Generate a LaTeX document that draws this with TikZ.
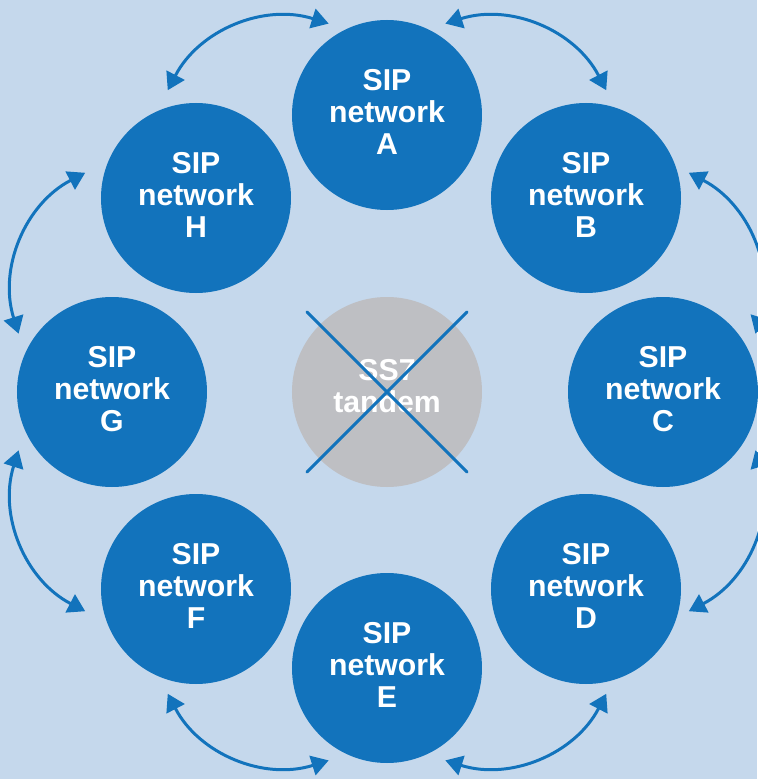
\documentclass[tikz,border=0pt]{standalone}
\usepackage{fontspec}
\setmainfont{Liberation Sans}
\usetikzlibrary{arrows.meta}
\definecolor{sipblue}{RGB}{18,115,188}
\definecolor{bgblue}{RGB}{197,216,236}
\definecolor{tandemgray}{RGB}{190,191,195}

\begin{document}
\begin{tikzpicture}[line width=1.7pt]
	\tikzstyle{every node} = [circle, minimum size=3.8cm, inner sep=0pt, align=center, text=white, font=\bfseries\fontsize{17.2}{18.2}\selectfont]
	\tikzstyle{sip} = [fill=sipblue, text depth=0.13cm]
	\tikzstyle{link} = [<->, >={Triangle[length=0.34cm, width=0.4cm]}, sipblue]
	\fill [bgblue] (-7.74,-7.74) rectangle (7.40,7.84);
	\useasboundingbox (-7.74,-7.74) rectangle (7.40,7.84);
	\node [sip] (A) at (0,5.54) {SIP\\network\\A};
	\node [sip] (B) at (3.98,3.88) {SIP\\network\\B};
	\node [sip] (C) at (5.52,0) {SIP\\network\\C};
	\node [sip] (D) at (3.98,-3.94) {SIP\\network\\D};
	\node [sip] (E) at (0,-5.52) {SIP\\network\\E};
	\node [sip] (F) at (-3.82,-3.94) {SIP\\network\\F};
	\node [sip] (G) at (-5.50,0) {SIP\\network\\G};
	\node [sip] (H) at (-3.82,3.88) {SIP\\network\\H};
	\node [fill=tandemgray, text depth=0.24cm] (ss7) at (0,0) {SS7\\tandem};
	% ends of the links between neighbouring networks
	\coordinate (bc1) at (9:7.46);
	\coordinate (bc2) at (36:7.46);
	\coordinate (ab1) at (54:7.46);
	\coordinate (ab2) at (81:7.46);
	\coordinate (ah1) at (99:7.46);
	\coordinate (ah2) at (126:7.46);
	\coordinate (gh1) at (144:7.46);
	\coordinate (gh2) at (171:7.46);
	\coordinate (fg1) at (189:7.46);
	\coordinate (fg2) at (216:7.46);
	\coordinate (ef1) at (234:7.46);
	\coordinate (ef2) at (261:7.46);
	\coordinate (de1) at (279:7.46);
	\coordinate (de2) at (306:7.46);
	\coordinate (cd1) at (324:7.46);
	\coordinate (cd2) at (351:7.46);
	\draw [link] (bc1) to [bend right=40] (bc2);
	\draw [link] (ab1) to [bend right=40] (ab2);
	\draw [link] (ah1) to [bend right=40] (ah2);
	\draw [link] (gh1) to [bend right=40] (gh2);
	\draw [link] (fg1) to [bend right=40] (fg2);
	\draw [link] (ef1) to [bend right=40] (ef2);
	\draw [link] (de1) to [bend right=40] (de2);
	\draw [link] (cd1) to [bend right=40] (cd2);
	% the tandem is crossed out
	\coordinate (x1) at (-1.6,1.6);
	\coordinate (x2) at (1.6,-1.6);
	\coordinate (x3) at (1.6,1.6);
	\coordinate (x4) at (-1.6,-1.6);
	\draw [sipblue, line cap=round] (x1)--(x2);
	\draw [sipblue, line cap=round] (x3)--(x4);
\end{tikzpicture}
\end{document}
